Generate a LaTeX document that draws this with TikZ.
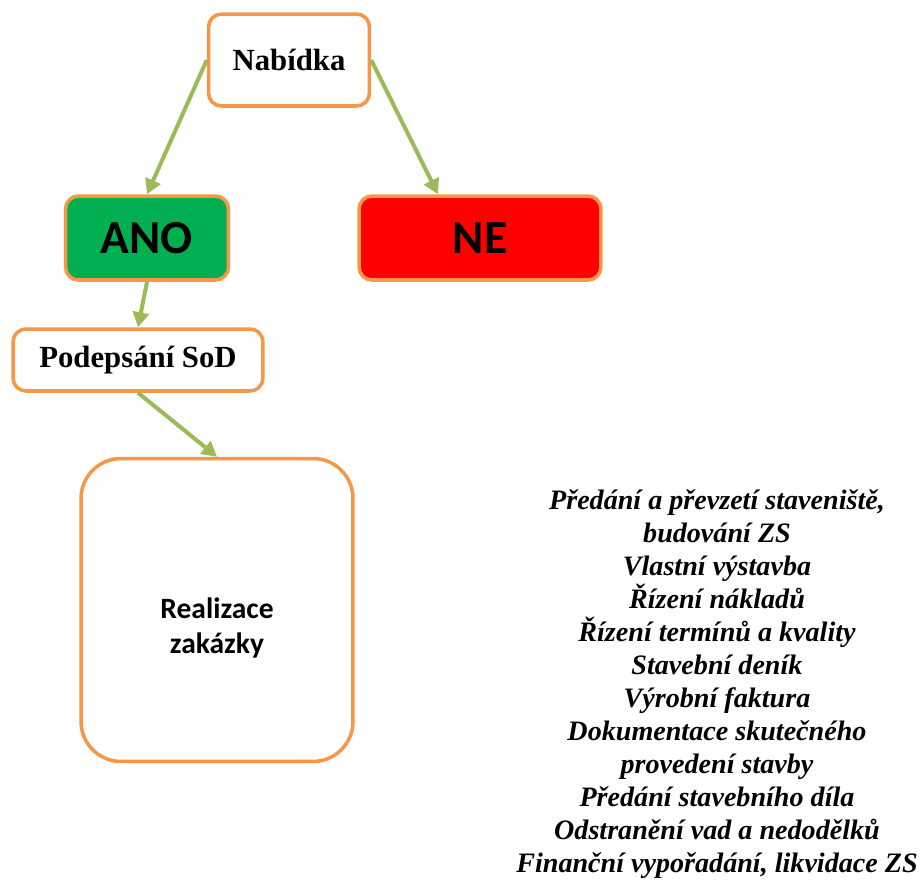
\documentclass[tikz,border=0pt]{standalone}
\usepackage{fontspec}
\setmainfont{Liberation Serif}
\newfontfamily\calibri{Carlito}
\usepackage{xcolor}
\usepackage{tikz}
\usetikzlibrary{arrows.meta}
\definecolor{boxorange}{HTML}{F79646}
\definecolor{arrowgreen}{HTML}{9BBB59}
\definecolor{anogreen}{HTML}{00B050}
\tikzstyle{stage}=[draw=boxorange, line width=2pt, rounded corners=0.26cm, fill=white, font=\bfseries\fontsize{17.5}{20}\selectfont]
\tikzstyle{verdict}=[stage, font=\calibri\bfseries\fontsize{27}{30}\selectfont]
\tikzstyle{flow}=[draw=arrowgreen, line width=2.3pt, -{Triangle[length=3mm, width=3.2mm]}]

\begin{document}
\begin{tikzpicture}[x=0.02cm, y=-0.02cm]
        \useasboundingbox (0,0) rectangle (920,880);
        % boxes
        \node[stage, minimum width=3.22cm, minimum height=1.84cm] (nab) at (289,60) {Nabídka};
        \node[verdict, fill=anogreen, minimum width=3.26cm, minimum height=1.68cm] (ano) at (147,238) {ANO};
        \node[verdict, fill=red, minimum width=4.84cm, minimum height=1.68cm] (ne) at (480,238) {NE};
        \node[stage, minimum width=5.0cm, minimum height=1.24cm] (sod) at (138,360) {Podepsání SoD};
        \node[stage, rounded corners=0.8cm, minimum width=5.44cm, minimum height=6.06cm] (real) at (217,610) {};
        \node[align=center, font=\calibri\bfseries\fontsize{16.8}{19.8}\selectfont] (realtext) at (217,628) {Realizace\\zakázky};
        % arrows
        \draw[flow] (nab.west) -- (ano.north);
        \draw[flow] (nab.east) -- ([xshift=-0.84cm]ne.north);
        \draw[flow] (ano.south) -- (sod.north);
        \draw[flow] (sod.south) -- (real.north);
        % list of activities
        \node[align=center, font=\bfseries\itshape\fontsize{16}{18.8}\selectfont] (steps) at (717,684) {%
            Předání a převzetí staveniště,\\
            budování ZS\\
            Vlastní výstavba\\
            Řízení nákladů\\
            Řízení termínů a kvality\\
            Stavební deník\\
            Výrobní faktura\\
            Dokumentace skutečného\\
            provedení stavby\\
            Předání stavebního díla\\
            Odstranění vad a nedodělků\\
            Finanční vypořadání, likvidace ZS};
    \end{tikzpicture}
\end{document}
